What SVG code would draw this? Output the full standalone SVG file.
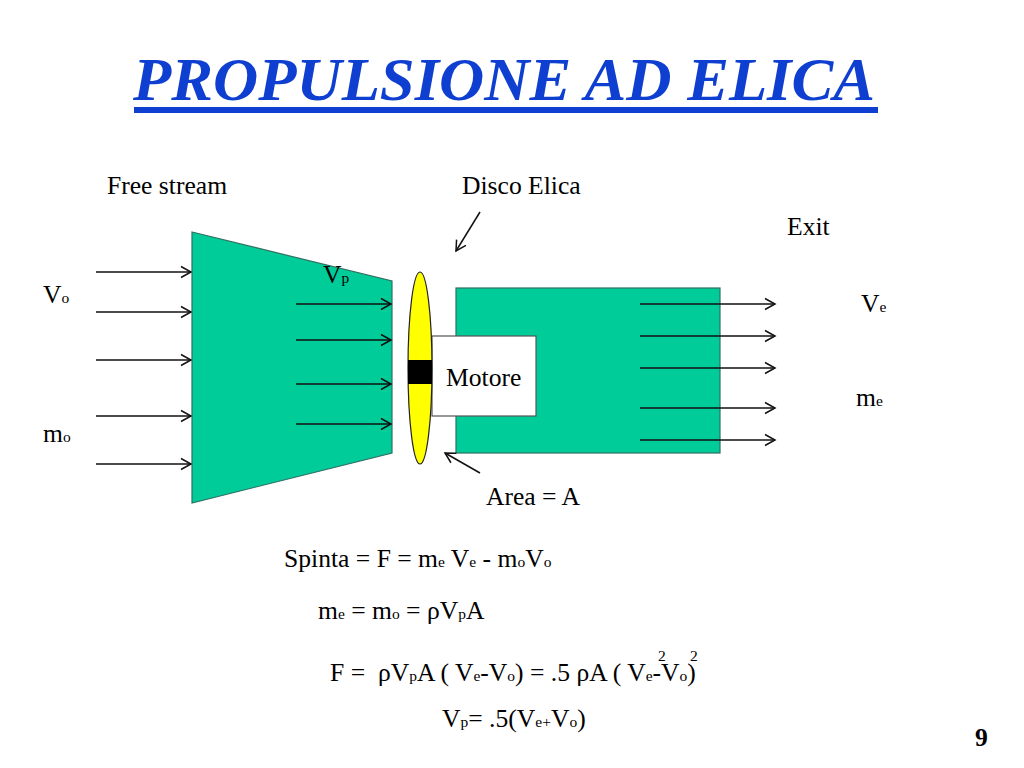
<svg xmlns="http://www.w3.org/2000/svg" width="1024" height="768" viewBox="0 0 1024 768">
<style>
text{font-family:"Liberation Serif","Times New Roman",serif;fill:#000;font-size:25.6px}
.s{font-size:15.5px}
.shape{fill:#00cc99;stroke:#2f6f62;stroke-width:1.2}
.a{stroke:#111;stroke-width:1.5;fill:none;marker-end:url(#h)}
</style>
<defs>
<marker id="h" markerUnits="userSpaceOnUse" markerWidth="14" markerHeight="14" refX="11" refY="7" orient="auto" overflow="visible">
<path d="M1 1.5L11 7L1 12.5" fill="none" stroke="#111" stroke-width="1.5"/>
</marker>
</defs>
<rect width="1024" height="768" fill="#fff"/>
<g id="title">
<text x="133" y="100" style="font-size:61px;font-weight:bold;font-style:italic;fill:#0f3fd0" textLength="742" lengthAdjust="spacingAndGlyphs">PROPULSIONE AD ELICA</text>
<rect x="134" y="107" width="744" height="6" fill="#0f3fd0"/>
</g>
<g id="inlet"><polygon class="shape" points="192,232 392,281 392,453 192,503"/></g>
<g id="duct"><rect class="shape" x="456" y="288" width="264" height="165"/></g>
<g id="motore">
<rect x="432" y="336" width="104" height="80" fill="#fff" stroke="#555" stroke-width="1.2"/>
<text x="446" y="386">Motore</text>
</g>
<g id="elica">
<ellipse cx="420" cy="368" rx="12" ry="96" fill="#ffff00" stroke="#222" stroke-width="1.2"/>
<rect x="408" y="360" width="24" height="24" fill="#000"/>
</g>
<g id="connectors">
<path class="a" d="M96 272H191"/>
<path class="a" d="M96 312H191"/>
<path class="a" d="M96 360H191"/>
<path class="a" d="M96 416H191"/>
<path class="a" d="M96 464H191"/>
<path class="a" d="M296 304H391"/>
<path class="a" d="M296 340H391"/>
<path class="a" d="M296 384H391"/>
<path class="a" d="M296 424H391"/>
<path class="a" d="M640 304H775"/>
<path class="a" d="M640 336H775"/>
<path class="a" d="M640 368H775"/>
<path class="a" d="M640 408H775"/>
<path class="a" d="M640 440H775"/>
<path class="a" d="M480 212L456 251"/>
<path class="a" d="M480 473L445 453"/>
</g>
<g id="labels">
<text x="107" y="194">Free stream</text>
<text x="462" y="194">Disco Elica</text>
<text x="787" y="235">Exit</text>
<text x="323" y="283">V<tspan class="s">p</tspan></text>
<text x="43" y="303">V<tspan class="s">o</tspan></text>
<text x="43" y="442">m<tspan class="s">o</tspan></text>
<text x="861" y="312">V<tspan class="s">e</tspan></text>
<text x="856" y="406">m<tspan class="s">e</tspan></text>
<text x="486" y="505">Area = A</text>
<text x="284" y="567">Spinta = F = m<tspan class="s">e</tspan> V<tspan class="s">e</tspan> - m<tspan class="s">o</tspan>V<tspan class="s">o</tspan></text>
<text x="318" y="619">m<tspan class="s">e</tspan> = m<tspan class="s">o</tspan> = ρV<tspan class="s">p</tspan>A</text>
<text x="330" y="681">F = <tspan x="378">ρV</tspan><tspan class="s">p</tspan>A ( V<tspan class="s">e</tspan>-V<tspan class="s">o</tspan>) = .5 ρA ( V<tspan class="s">e</tspan>-V<tspan class="s">o</tspan>)</text>
<text class="s" x="658" y="661">2</text>
<text class="s" x="690" y="661">2</text>
<text x="442" y="727">V<tspan class="s">p</tspan>= .5(V<tspan class="s">e+</tspan>V<tspan class="s">o</tspan>)</text>
<text x="975" y="746" style="font-weight:bold">9</text>
</g>
</svg>
